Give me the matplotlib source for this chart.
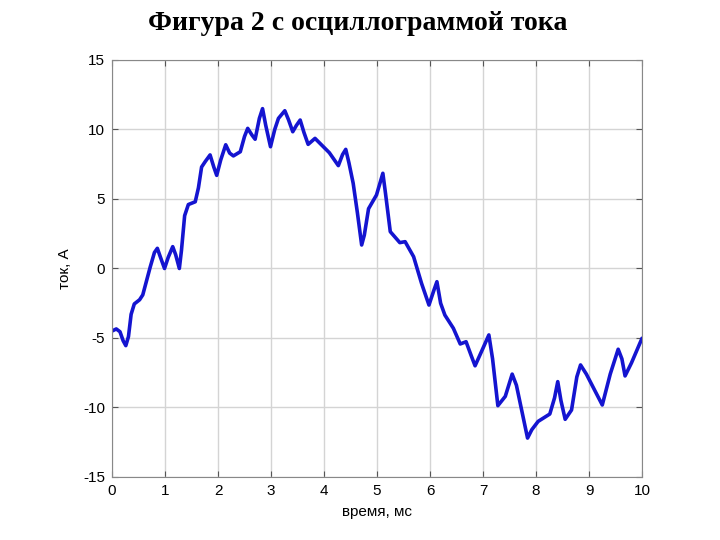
import matplotlib
matplotlib.use("Agg")
import matplotlib.pyplot as plt

# time (ms) and current (A)
t_ms = [0.0, 0.08, 0.15, 0.21, 0.26, 0.31, 0.36, 0.42, 0.52, 0.58, 0.65, 0.72, 0.80, 0.855,
        0.91, 0.99, 1.06, 1.145, 1.20, 1.27, 1.31, 1.37, 1.44, 1.57, 1.63, 1.69, 1.76, 1.85,
        1.92, 1.975, 2.05, 2.145, 2.22, 2.29, 2.42, 2.50, 2.56, 2.64, 2.70, 2.78, 2.84, 2.90,
        2.99, 3.07, 3.14, 3.26, 3.33, 3.41, 3.48, 3.55, 3.62, 3.70, 3.83, 4.10, 4.27, 4.35,
        4.41, 4.47, 4.55, 4.63, 4.71, 4.76, 4.84, 4.99, 5.06, 5.11, 5.16, 5.25, 5.43, 5.53,
        5.69, 5.84, 5.98, 6.07, 6.13, 6.20, 6.28, 6.44, 6.57, 6.68, 6.78, 6.85, 6.98, 7.11,
        7.18, 7.28, 7.42, 7.55, 7.63, 7.84, 7.92, 8.04, 8.26, 8.35, 8.41, 8.47, 8.55, 8.67,
        8.77, 8.84, 8.95, 9.25, 9.40, 9.55, 9.62, 9.68, 9.80, 10.0]
current_a = [-4.5, -4.35, -4.55, -5.2, -5.55, -4.9, -3.3, -2.55, -2.25, -1.9, -0.9, 0.1, 1.15,
             1.45, 0.85, 0.0, 0.8, 1.57, 1.0, 0.0, 1.3, 3.8, 4.6, 4.8, 5.8, 7.3, 7.7, 8.17,
             7.3, 6.7, 7.8, 8.9, 8.3, 8.1, 8.4, 9.5, 10.08, 9.6, 9.3, 10.8, 11.5, 10.3,
             8.76, 10.0, 10.8, 11.35, 10.7, 9.84, 10.3, 10.68, 9.8, 8.93, 9.36, 8.33, 7.4, 8.2,
             8.57, 7.6, 6.13, 4.0, 1.69, 2.4, 4.3, 5.29, 6.2, 6.85, 5.4, 2.65, 1.86, 1.93,
             0.85, -1.07, -2.63, -1.6, -0.95, -2.5, -3.35, -4.3, -5.43, -5.27, -6.3, -7.0, -5.9, -4.78,
             -6.5, -9.87, -9.2, -7.6, -8.4, -12.2, -11.6, -11.0, -10.47, -9.3, -8.14, -9.5, -10.85, -10.18,
             -7.8, -6.94, -7.6, -9.82, -7.6, -5.81, -6.5, -7.73, -6.8, -5.02]

x_ticks = list(range(0, 11))
y_ticks = [-15, -10, -5, 0, 5, 10, 15]

plt.rcParams['font.family'] = ['Liberation Sans', 'DejaVu Sans']
plt.rcParams['axes.unicode_minus'] = False

fig = plt.figure(figsize=(7.2, 5.4), dpi=100)
ax = fig.add_axes([0.1556, 0.1167, 0.7361, 0.7722])

ax.plot(t_ms, current_a, color='#1414d0', linewidth=2.6,
        solid_joinstyle='round', solid_capstyle='round')

ax.set_xlim(0, 10)
ax.set_ylim(-15, 15)
ax.set_xticks(x_ticks)
ax.set_yticks(y_ticks)
ax.grid(True, color='#d4d4d4', linewidth=1.0, linestyle='-')
ax.set_axisbelow(True)
ax.tick_params(direction='in', length=4, labelsize=11, colors='#555555',
               labelcolor='black', top=True, right=True, pad=5)
for s in ax.spines.values():
    s.set_color('#888888')
    s.set_linewidth(0.8)

ax.set_xlabel('время, мс', fontsize=11, labelpad=5)
ax.set_ylabel('ток, А', fontsize=11, labelpad=8)

fig.text(0.497, 0.956, 'Фигура 2 с осциллограммой тока', ha='center', va='center',
         fontsize=20, fontweight='bold', family=['Liberation Serif', 'DejaVu Serif'])

fig.savefig('out.png', dpi=100)
